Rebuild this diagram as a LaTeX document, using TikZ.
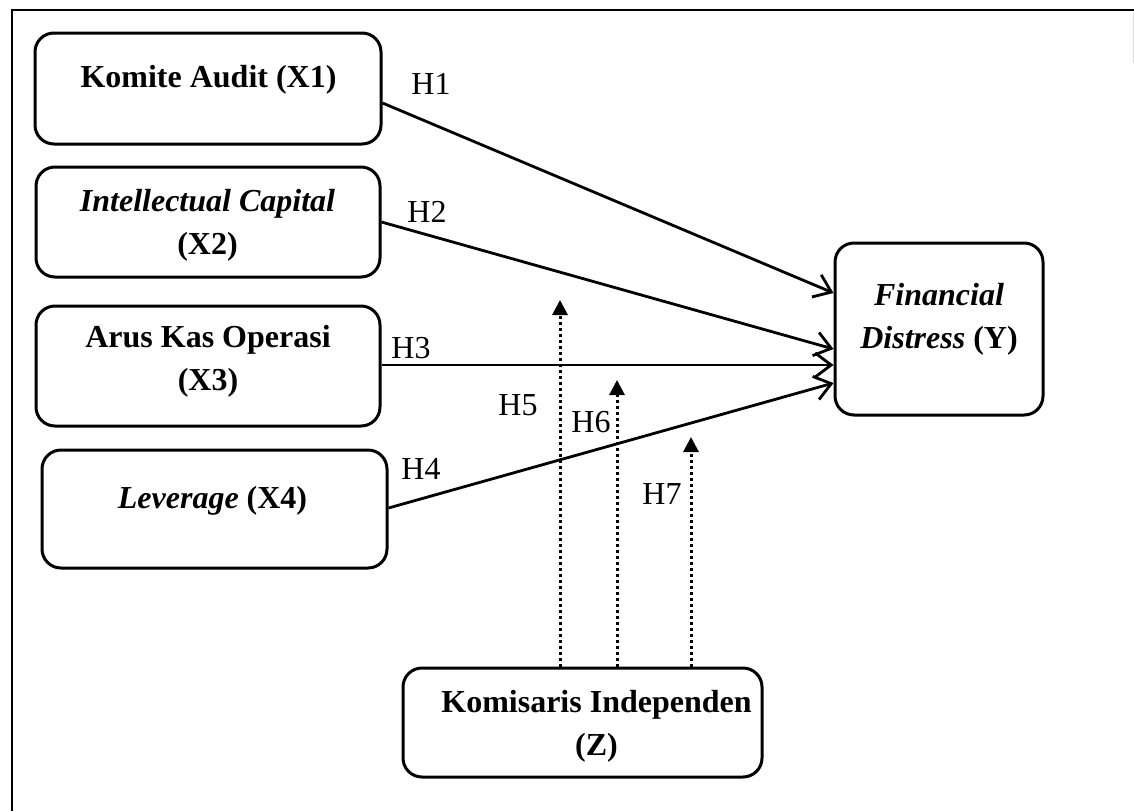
\documentclass[tikz,border=0pt]{standalone}
\usepackage{fontspec}
\setmainfont{Liberation Serif}
\usetikzlibrary{arrows.meta,calc}
\begin{document}
\begin{tikzpicture}[x=1pt,y=-1pt,
 box/.style={draw, line width=3pt, rounded corners=19pt, inner sep=0pt},
 lbl/.style={font=\fontsize{32}{43}\selectfont\bfseries, align=center, inner sep=0pt},
 hyp/.style={font=\fontsize{32}{36}\selectfont, inner sep=0pt},
 pathA/.style={line width=2.8pt, -{Straight Barb[length=16pt,width=24pt]}},
 modA/.style={line width=3pt, dash pattern=on 3pt off 3pt, -{Triangle[length=15pt,width=15pt]}},
 frame/.style={line width=2.2pt}
]
\useasboundingbox (0,0) rectangle (1134,811);
% frame
\coordinate (fa) at (12,811);
\coordinate (fb) at (12,10);
\coordinate (fc) at (1134,10);
\draw[frame] (fa) -- (fb) -- (fc);
\coordinate (fd) at (1133,13);
\coordinate (fe) at (1133,63);
\draw[line width=1pt, black!15] (fd) -- (fe);

% boxes
\node[box, minimum width=346pt, minimum height=111pt] (x1) at (208,88.5) {};
\node[box, minimum width=344pt, minimum height=110pt] (x2) at (208,222) {};
\node[box, minimum width=344pt, minimum height=120pt] (x3) at (208,366) {};
\node[box, minimum width=345pt, minimum height=118pt] (x4) at (214.5,509) {};
\node[box, minimum width=208pt, minimum height=172pt] (y) at (939,329) {};
\node[box, minimum width=359pt, minimum height=109pt] (z) at (582.5,722.5) {};

% texts
\node[lbl] (x1t) at (208.5,80) {Komite Audit (X1)};
\node[lbl] (x2t) at (207.5,225) {\textit{Intellectual Capital}\\(X2)};
\node[lbl] (x3t) at (208,361) {Arus Kas Operasi\\(X3)};
\node[lbl] (x4t) at (212.5,501) {\textit{Leverage} (X4)};
\node[lbl] (yt) at (939,319) {\textit{Financial}\\\textit{Distress} (Y)};
\node[lbl] (zt) at (596.5,726) {Komisaris Independen\\(Z)};

% direct paths
\draw[pathA] ([yshift=-14.5pt]x1.east) -- ([yshift=36pt]y.west);
\draw[pathA] (x2.east) -- ([yshift=-20pt]y.west);
\draw[pathA] ([yshift=1pt]x3.east) -- ([yshift=-36pt]y.west);
\draw[pathA] ([yshift=1pt]x4.east) -- ([yshift=-54pt]y.west);

% moderation arrows
\coordinate (m5) at (560,300);
\coordinate (m6) at (617,380);
\coordinate (m7) at (691,437);
\draw[modA] (z.north -| m5) -- (m5);
\draw[modA] (z.north -| m6) -- (m6);
\draw[modA] (z.north -| m7) -- (m7);

% hypothesis labels
\node[hyp] (h1) at (431,84) {H1};
\node[hyp] (h2) at (427,212) {H2};
\node[hyp] (h3) at (411,348) {H3};
\node[hyp] (h4) at (421,469) {H4};
\node[hyp] (h5) at (518,405) {H5};
\node[hyp] (h6) at (591,422) {H6};
\node[hyp] (h7) at (662,494) {H7};
\end{tikzpicture}
\end{document}
